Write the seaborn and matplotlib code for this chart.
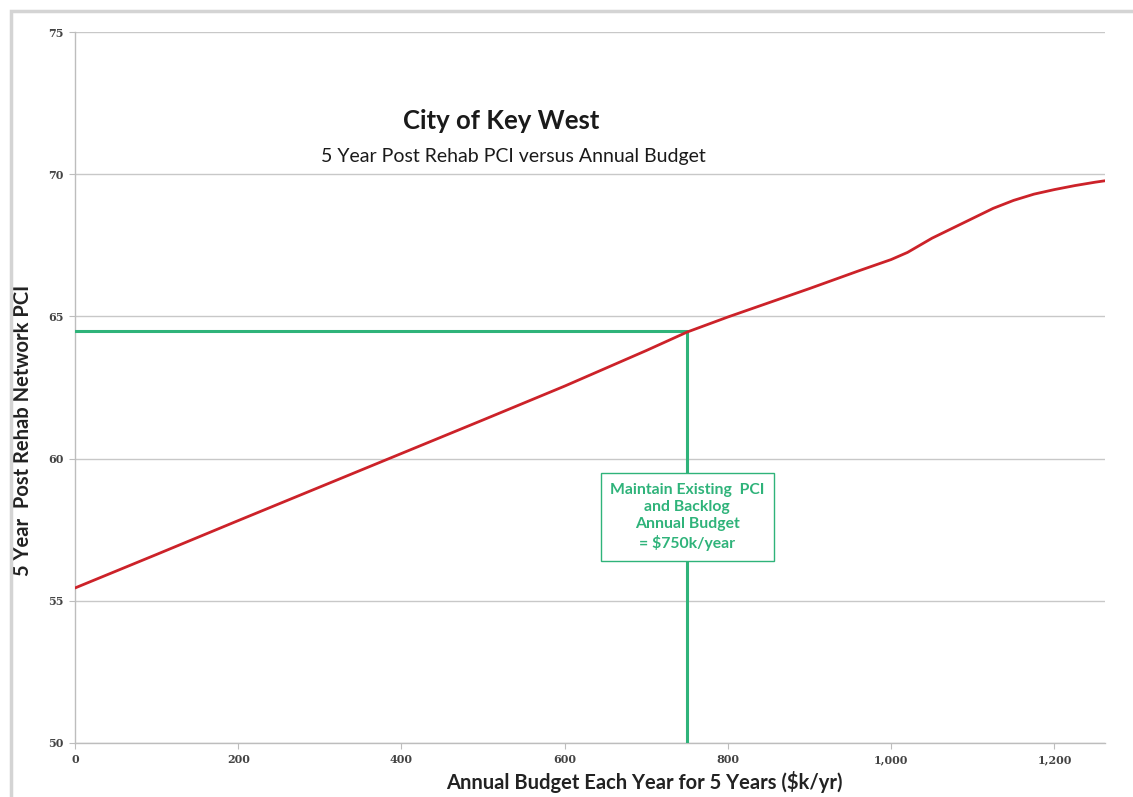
import pandas as pd
import matplotlib.pyplot as plt
import seaborn as sns
from matplotlib.patches import Rectangle
from matplotlib.ticker import FuncFormatter

# data
budget = [0, 100, 200, 300, 400, 500, 600, 700, 750, 800, 900, 960, 1000,
          1020, 1050, 1100, 1125, 1150, 1175, 1200, 1225, 1250, 1262]
pci = [55.45, 56.63, 57.82, 59.0, 60.18, 61.36, 62.55, 63.8, 64.45, 64.98,
       65.98, 66.6, 67.0, 67.25, 67.75, 68.45, 68.8, 69.08, 69.3, 69.46,
       69.6, 69.72, 69.77]
target_budget = 750
target_pci = 64.5
x_ticks = [0, 200, 400, 600, 800, 1000, 1200]
y_ticks = [50, 55, 60, 65, 70, 75]

df = pd.DataFrame({'Budget': budget, 'PCI': pci})

sns.set_theme(style='white')
plt.rcParams['font.family'] = ['Lato', 'DejaVu Sans']

fig = plt.figure(figsize=(11.33, 7.97), dpi=100)
ax = fig.add_axes([0.0662, 0.0678, 0.9091, 0.892])

# outer chart frame
fig.patches.append(Rectangle((11 / 1133, -0.05), 1.2, (797 - 11) / 797 + 0.05,
                             transform=fig.transFigure, fill=False,
                             edgecolor='#d4d4d4', linewidth=2.5, zorder=0))

green = '#2fb37a'
red = '#cc2229'

# target lines
ax.plot([0, target_budget], [target_pci, target_pci], color=green, linewidth=2.2, zorder=3)
ax.plot([target_budget, target_budget], [50, target_pci], color=green, linewidth=2.2, zorder=3)

sns.lineplot(data=df, x='Budget', y='PCI', color=red, linewidth=2.0, ax=ax, zorder=4)

ax.set_xlim(0, 1262)
ax.set_ylim(50, 75)
ax.set_xticks(x_ticks)
ax.set_yticks(y_ticks)
ax.xaxis.set_major_formatter(FuncFormatter(lambda v, p: f'{int(v):,}'))
ax.grid(axis='y', color='#c8c8c8', linewidth=1.0)
ax.grid(axis='x', visible=False)
for side in ['top', 'right']:
    ax.spines[side].set_visible(False)
for side in ['left', 'bottom']:
    ax.spines[side].set_color('#bdbdbd')
    ax.spines[side].set_linewidth(1.0)
ax.tick_params(axis='both', which='major', labelsize=8, colors='#444444',
               length=4, width=0.8, direction='out', left=True, bottom=True, pad=4)
ax.tick_params(axis='x', color='#bdbdbd')
ax.tick_params(axis='y', color='#bdbdbd')
for lbl in ax.get_xticklabels() + ax.get_yticklabels():
    lbl.set_family(['DejaVu Serif'])
    lbl.set_fontweight('bold')

ax.set_xlabel('Annual Budget Each Year for 5 Years ($k/yr)', fontsize=14.5,
              fontweight='bold', color='#222222')
ax.xaxis.set_label_coords(0.553, -0.04)
ax.set_ylabel('5 Year  Post Rehab Network PCI', fontsize=14.5,
              fontweight='bold', color='#222222')
ax.yaxis.set_label_coords(-0.041, 0.44)

# titles inside plot area
ax.text(0.414, 0.875, 'City of Key West', transform=ax.transAxes, ha='center',
        va='center', fontsize=18.5, fontweight='bold', color='#1a1a1a')
ax.text(0.426, 0.825, '5 Year Post Rehab PCI versus Annual Budget',
        transform=ax.transAxes, ha='center', va='center', fontsize=14,
        color='#1a1a1a')

# annotation box
ax.text(target_budget, 57.95, 'Maintain Existing  PCI\nand Backlog\nAnnual Budget\n= $750k/year',
        ha='center', va='center', fontsize=11.3, fontweight='bold', color=green,
        linespacing=1.3, zorder=5,
        bbox=dict(boxstyle='square,pad=0.6', facecolor='white', edgecolor=green, linewidth=1.0))

plt.savefig('out.png', dpi=100)
